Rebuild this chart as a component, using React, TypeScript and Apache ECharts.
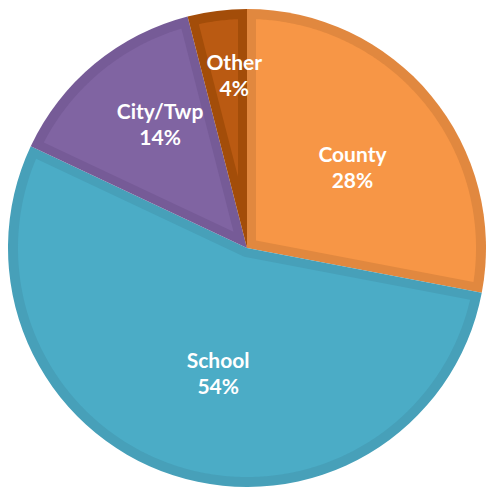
import React, { useEffect, useRef } from "react";
import * as echarts from "echarts";

// ---- data ----
const CATEGORIES = ["County", "School", "City/Twp", "Other"];
const VALUES = [28, 54, 14, 4];

// ---- styling ----
const FILL_COLORS = ["#F79646", "#4BACC6", "#8064A2", "#BA5A12"];
const EDGE_COLORS = ["#E1883F", "#47A0B9", "#765B97", "#A34D09"];
// label placement: fraction of radius along slice bisector, plus small angular nudge (deg)
const LABEL_RADIUS = [0.557, 0.536, 0.634, 0.728];
const LABEL_NUDGE = [2, -5, 4.6, 3];

const CX = 247;
const CY = 248;
const R = 239;
const EDGE_W = 9; // inner border thickness along radial edges
const EDGE_OUTER = 10; // inner border thickness along the arc

export default function App() {
  const ref = useRef<HTMLDivElement>(null);

  useEffect(() => {
    if (!ref.current) return;
    const chart = echarts.init(ref.current, undefined, { renderer: "svg" });
    const total = VALUES.reduce((a, b) => a + b, 0);
    const cum: number[] = [];
    let acc = 0;
    VALUES.forEach((v) => {
      cum.push(acc);
      acc += v;
    });

    const renderItem = (params: any) => {
      const i = params.dataIndex;
      const a0 = -Math.PI / 2 + (2 * Math.PI * cum[i]) / total;
      const a1 = -Math.PI / 2 + (2 * Math.PI * (cum[i] + VALUES[i])) / total;
      const th = a1 - a0;
      const m = (a0 + a1) / 2;
      const d = EDGE_W;
      const s = d / Math.sin(th / 2);
      const px = CX + s * Math.cos(m);
      const py = CY + s * Math.sin(m);
      const rho = R - EDGE_OUTER;
      const delta = Math.asin(d / rho);
      const start = a0 + delta;
      const end = a1 - delta;
      const steps = Math.max(4, Math.ceil(((end - start) * 180) / Math.PI / 0.5));
      const pts: number[][] = [[px, py]];
      for (let k = 0; k <= steps; k++) {
        const a = start + ((end - start) * k) / steps;
        pts.push([CX + rho * Math.cos(a), CY + rho * Math.sin(a)]);
      }
      const la = m + (LABEL_NUDGE[i] * Math.PI) / 180;
      const lr = LABEL_RADIUS[i] * R;
      const pct = Math.round((VALUES[i] / total) * 100);
      return {
        type: "group",
        children: [
          {
            type: "polygon",
            z2: 5,
            shape: { points: pts },
            style: { fill: FILL_COLORS[i], lineWidth: 0 },
            silent: true,
          },
          {
            type: "text",
            z2: 10,
            style: {
              text: `${CATEGORIES[i]}\n${pct}%`,
              x: CX + lr * Math.cos(la),
              y: CY + lr * Math.sin(la),
              fill: "#ffffff",
              fontFamily: "Lato",
              fontWeight: "bold",
              fontSize: 21,
              lineHeight: 26,
              align: "center",
              verticalAlign: "middle",
            },
          },
        ],
      };
    };

    chart.setOption({
      animation: false,
      backgroundColor: "#ffffff",
      series: [
        {
          type: "pie",
          z: 1,
          center: [CX, CY],
          radius: R,
          startAngle: 90,
          clockwise: true,
          silent: true,
          label: { show: false },
          labelLine: { show: false },
          itemStyle: { borderWidth: 0 },
          data: CATEGORIES.map((name, i) => ({
            name,
            value: VALUES[i],
            itemStyle: { color: EDGE_COLORS[i] },
          })),
        },
        {
          type: "custom",
          z: 5,
          coordinateSystem: "none",
          silent: true,
          renderItem,
          data: VALUES.map((v, i) => [v, i]),
        },
      ],
    });
    return () => chart.dispose();
  }, []);

  return (
    <div
      ref={ref}
      style={{ position: "absolute", left: 0, top: 0, width: 487, height: 489 }}
    />
  );
}
